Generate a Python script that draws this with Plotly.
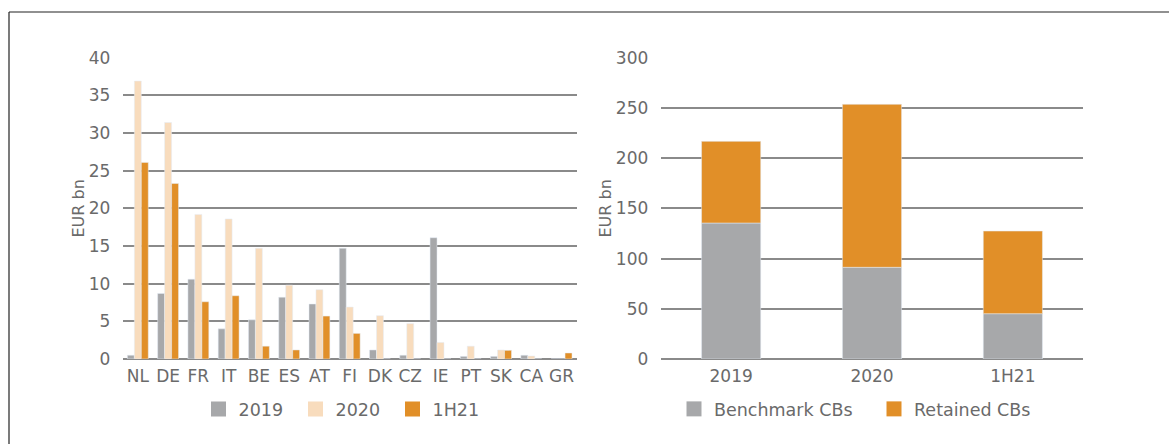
import plotly.graph_objects as go

# ---- data ----
countries = ["NL", "DE", "FR", "IT", "BE", "ES", "AT", "FI", "DK", "CZ", "IE", "PT", "SK", "CA", "GR"]
v2019 = [0.5, 8.7, 10.6, 4.0, 5.2, 8.2, 7.3, 14.7, 1.2, 0.5, 16.1, 0.35, 0.35, 0.5, 0.0]
v2020 = [36.9, 31.4, 19.2, 18.6, 14.7, 9.8, 9.2, 6.9, 5.75, 4.7, 2.2, 1.7, 1.2, 0.4, 0.0]
v1h21 = [26.1, 23.3, 7.6, 8.4, 1.7, 1.2, 5.7, 3.4, 0.0, 0.0, 0.0, 0.0, 1.15, 0.0, 0.8]

periods = ["2019", "2020", "1H21"]
benchmark = [135.4, 91.3, 45.1]
retained = [81.3, 162.3, 82.3]

GRAY = "#A7A8AA"
PEACH = "#F8DCBD"
ORANGE = "#E18F28"
TXT = "#6A6A6A"
GRID = "#8A8A8A"
FONT = "DejaVu Sans, Verdana, sans-serif"

W, H = 1169, 444


def px_x(p):
    return p / W


def px_y(p):
    return 1 - p / H


fig = go.Figure()
left_series = [("2019", v2019, GRAY), ("2020", v2020, PEACH), ("1H21", v1h21, ORANGE)]
for name, vals, col in left_series:
    fig.add_trace(go.Bar(x=countries, y=vals, name=name, marker_color=col, xaxis="x", yaxis="y",
                         showlegend=False, legendgroup=name))
    fig.add_trace(go.Scatter(x=[None], y=[None], mode="markers", name=name, legendgroup=name,
                             marker=dict(symbol="square", size=15, color=col), xaxis="x", yaxis="y",
                             legend="legend"))

fig.add_trace(go.Bar(x=periods, y=benchmark, name="Benchmark CBs", marker_color=GRAY, xaxis="x2", yaxis="y2",
                     offsetgroup="s", width=0.42, showlegend=False, legendgroup="b"))
fig.add_trace(go.Bar(x=periods, y=retained, name="Retained CBs", marker_color=ORANGE, xaxis="x2", yaxis="y2",
                     offsetgroup="s", base=benchmark, width=0.42, showlegend=False, legendgroup="r"))
for name, col, grp in [("Benchmark CBs", GRAY, "b"), ("Retained CBs", ORANGE, "r")]:
    fig.add_trace(go.Scatter(x=[None], y=[None], mode="markers", name=name, legendgroup=grp,
                             marker=dict(symbol="square", size=15, color=col), xaxis="x2", yaxis="y2",
                             legend="legend2"))

ydom = [px_y(359), px_y(57.7)]
common_y = dict(showgrid=True, gridcolor=GRID, gridwidth=1.5, zeroline=True, zerolinecolor=GRID, zerolinewidth=1.5,
                showline=False, ticks="outside", ticklen=8, tickcolor="rgba(0,0,0,0)",
                tickfont=dict(size=17, color=TXT, family=FONT), automargin=False)
common_x = dict(showgrid=False, showline=False, ticks="outside", ticklen=2, tickcolor="rgba(0,0,0,0)",
                tickfont=dict(size=17, color=TXT, family=FONT), automargin=False)

fig.update_layout(
    width=W, height=H,
    margin=dict(l=0, r=0, t=0, b=0),
    paper_bgcolor="white", plot_bgcolor="white",
    barmode="group", bargap=0.31, bargroupgap=0.0,
    font=dict(family=FONT, color=TXT),
    xaxis=dict(domain=[px_x(122.7), px_x(576.7)], anchor="y", **common_x),
    yaxis=dict(domain=ydom, anchor="x", range=[0, 40], dtick=5,
               title=dict(text="EUR bn", font=dict(size=16, color=TXT, family=FONT), standoff=0), **common_y),
    xaxis2=dict(domain=[px_x(660.7), px_x(1083.3)], anchor="y2", **common_x),
    yaxis2=dict(domain=ydom, anchor="x2", range=[0, 300], dtick=50,
                title=dict(text="EUR bn", font=dict(size=16, color=TXT, family=FONT), standoff=0), **common_y),
    legend=dict(orientation="h", x=px_x(344), xanchor="center", y=px_y(409), yanchor="middle",
                font=dict(size=17.5, color=TXT, family=FONT), entrywidth=52, itemwidth=30,
                itemsizing="trace", bgcolor="rgba(0,0,0,0)"),
    legend2=dict(orientation="h", x=px_x(874), xanchor="center", y=px_y(409), yanchor="middle",
                 font=dict(size=17.5, color=TXT, family=FONT), entrywidth=155, itemwidth=30,
                 itemsizing="trace", bgcolor="rgba(0,0,0,0)"),
    shapes=[
        dict(type="line", xref="paper", yref="paper", x0=px_x(9), x1=1.0, y0=px_y(12), y1=px_y(12),
             line=dict(color="#222222", width=1.2)),
        dict(type="line", xref="paper", yref="paper", x0=px_x(9), x1=px_x(9), y0=px_y(12), y1=0,
             line=dict(color="#222222", width=1.2)),
    ],
)

fig.write_html("out.html", config={"displayModeBar": False},
               post_script="document.body.style.margin='0';document.body.style.padding='0';")
